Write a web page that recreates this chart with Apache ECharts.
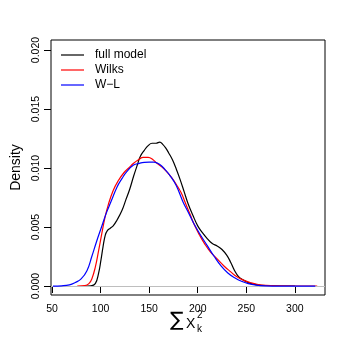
<!DOCTYPE html>
<html>
<head>
<meta charset="utf-8">
<script src="https://cdn.jsdelivr.net/npm/echarts@6/dist/echarts.min.js"></script>
<style>html,body{margin:0;padding:0;background:#fff}#c{width:346px;height:346px}</style>
</head>
<body>
<div id="c"></div>
<script>
// ---- data ----
const fullX = [82.5, 90, 94.6, 98, 100.4, 102.5, 104.8, 107, 110, 113, 117, 122, 126, 130, 134, 138, 141, 145, 149, 153, 157, 161, 164, 167, 170, 174, 178, 182, 186, 190, 195, 200, 205, 210, 215, 220, 225, 230, 234, 238, 242, 247, 254, 261, 270, 285, 300];
const fullY = [0, 0.00002, 0.0002, 0.0011, 0.0022, 0.0033, 0.0043, 0.0047, 0.0049, 0.0051, 0.0056, 0.0064, 0.0073, 0.0082, 0.0093, 0.0103, 0.0110, 0.0115, 0.0119, 0.0121, 0.0121, 0.0122, 0.0120, 0.0117, 0.0113, 0.0107, 0.0099, 0.0090, 0.0080, 0.0070, 0.0060, 0.0051, 0.0045, 0.0040, 0.0036, 0.0034, 0.0031, 0.0026, 0.0020, 0.0013, 0.0008, 0.0005, 0.00023, 0.0001, 0.00003, 0, 0];

const wilksX = [76, 84, 88, 91, 94.6, 98, 101.4, 104.8, 108, 113, 118, 124, 129, 134, 139, 144, 149, 154, 158, 163, 168, 173, 178, 183, 187, 192, 197, 202, 207, 213, 220, 227, 234, 240, 247, 254, 261, 270, 285, 300, 323];
const wilksY = [0, 0.00003, 0.0002, 0.0006, 0.0016, 0.0030, 0.0045, 0.0059, 0.0069, 0.0081, 0.0089, 0.0096, 0.0100, 0.0104, 0.0107, 0.0109, 0.0109, 0.0107, 0.0104, 0.0101, 0.0097, 0.0092, 0.0086, 0.0079, 0.0071, 0.0061, 0.0051, 0.0043, 0.0036, 0.0029, 0.0023, 0.0017, 0.0012, 0.0008, 0.0005, 0.0003, 0.00015, 0.00005, 0.00001, 0, 0];

const wlX = [51, 60, 68, 74, 80, 86, 91, 96, 101, 106, 111, 117, 122, 127, 134, 140, 145, 150, 155, 161, 166, 172, 178, 185, 190, 196, 203, 210, 217, 224, 231, 238, 245, 252, 260, 270, 285, 300, 321];
const wlY = [0, 0.00002, 0.0001, 0.0003, 0.0006, 0.0013, 0.0025, 0.0038, 0.0050, 0.0062, 0.0072, 0.0084, 0.0091, 0.0097, 0.01025, 0.0104, 0.01048, 0.0105, 0.0105, 0.0103, 0.0099, 0.0093, 0.0085, 0.0071, 0.0063, 0.0053, 0.0043, 0.0034, 0.0025, 0.0017, 0.0011, 0.0007, 0.0004, 0.0002, 0.00008, 0.00002, 0, 0, 0];

const seriesNames = ['full model', 'Wilks', 'W\u2212L'];
const seriesColors = ['#000000', '#ff0000', '#0000ff'];
const xTicks = [50, 100, 150, 200, 250, 300];
const yTicks = [0, 0.005, 0.010, 0.015, 0.020];
const yTickLabels = ['0.000', '0.005', '0.010', '0.015', '0.020'];

// ---- chart ----
const zip = (xs, ys) => xs.map((x, i) => [x, ys[i]]);
const curves = [zip(fullX, fullY), zip(wilksX, wilksY), zip(wlX, wlY)];
const FONT = 'Liberation Sans, Arial, Helvetica, sans-serif';

const chart = echarts.init(document.getElementById('c'), null, {renderer: 'canvas'});
const series = curves.map((d, i) => ({
  name: seriesNames[i],
  type: 'line',
  data: d,
  showSymbol: false,
  symbol: 'none',
  smooth: 0.45,
  lineStyle: {color: seriesColors[i], width: 1.2},
  itemStyle: {color: seriesColors[i]},
  z: 3 + i,
  animation: false
}));
series[0].markLine = {
  silent: true, symbol: 'none', animation: false,
  label: {show: false},
  lineStyle: {color: '#bebebe', width: 1, type: 'solid'},
  data: [{yAxis: 0}]
};

chart.setOption({
  animation: false,
  backgroundColor: '#ffffff',
  textStyle: {fontFamily: FONT},
  grid: {left: 51, top: 40, width: 274, height: 255, show: true, borderColor: '#000', borderWidth: 1, backgroundColor: 'transparent', containLabel: false, outerBoundsMode: 'none'},
  legend: {
    left: 56, top: 43, orient: 'vertical', itemGap: 1,
    itemWidth: 23, itemHeight: 14,
    icon: 'path://M0,6.5 L23,6.5 L23,7.7 L0,7.7 Z',
    textStyle: {fontSize: 12, color: '#000', fontFamily: FONT, padding: [0, 0, 0, 6], lineHeight: 14},
    data: seriesNames
  },
  xAxis: {
    type: 'value', min: 49, max: 331,
    splitLine: {show: false},
    axisLine: {show: false},
    axisTick: {show: true, length: 7, inside: false, customValues: xTicks, lineStyle: {color: '#000'}},
    axisLabel: {customValues: xTicks, color: '#000', fontSize: 10.5, margin: 9, fontFamily: FONT}
  },
  yAxis: {
    type: 'value', min: -0.00076, max: 0.02085,
    splitLine: {show: false},
    axisLine: {show: false},
    axisTick: {show: true, length: 7, inside: false, customValues: yTicks, lineStyle: {color: '#000'}},
    axisLabel: {customValues: yTicks, rotate: 90, color: '#000', fontSize: 10.5, margin: 9, fontFamily: FONT,
      formatter: v => { const k = yTicks.findIndex(t => Math.abs(t - v) < 1e-9); return k >= 0 ? yTickLabels[k] : ''; }},
    name: 'Density', nameLocation: 'middle', nameGap: 28, nameRotate: 90,
    nameTextStyle: {fontSize: 14, color: '#000', fontFamily: FONT}
  },
  graphic: [
    {type: 'text', left: 170, top: 311, style: {text: '\u2211', font: '20px "DejaVu Sans", sans-serif', fill: '#000'}},
    {type: 'text', left: 186, top: 317, style: {text: 'X', font: '14px Liberation Sans, Arial, sans-serif', fill: '#000'}},
    {type: 'text', left: 197, top: 310, style: {text: '2', font: '10px Liberation Sans, Arial, sans-serif', fill: '#000'}},
    {type: 'text', left: 197, top: 324, style: {text: 'k', font: '10px Liberation Sans, Arial, sans-serif', fill: '#000'}}
  ],
  series: series
});
</script>
</body>
</html>
